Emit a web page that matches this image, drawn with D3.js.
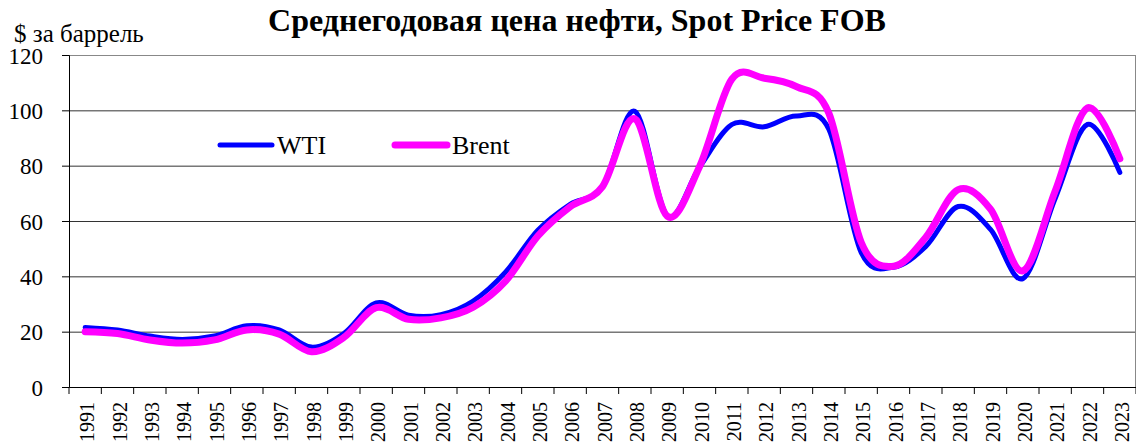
<!DOCTYPE html>
<html><head><meta charset="utf-8">
<script src="https://cdn.jsdelivr.net/npm/d3@7"></script>
<style>body{margin:0;background:#fff}svg{display:block}text{font-family:"Liberation Serif","Times New Roman","DejaVu Serif",serif}</style>
</head><body><svg id="c" width="1136" height="446"></svg>
<script>
const years = ["1991","1992","1993","1994","1995","1996","1997","1998","1999","2000","2001","2002","2003","2004","2005","2006","2007","2008","2009","2010","2011","2012","2013","2014","2015","2016","2017","2018","2019","2020","2021","2022","2023"];
const wti = [21.54,20.58,18.43,17.20,18.43,22.12,20.61,14.42,19.34,30.38,25.98,26.18,31.08,41.51,56.64,66.05,72.34,99.67,61.95,79.48,94.88,94.05,97.98,93.17,48.66,43.29,50.80,65.23,56.99,39.17,68.14,94.90,77.58];
const brent = [20.00,19.32,17.01,15.86,17.02,20.64,19.11,12.76,17.90,28.66,24.46,24.99,28.85,38.26,54.57,65.16,72.44,96.94,61.74,79.61,111.26,111.63,108.56,98.97,52.32,43.64,54.13,71.34,64.30,41.96,70.86,100.93,82.49];
const yTicks = [0,20,40,60,80,100,120];
const seriesNames = ["WTI","Brent"];
const colors = ["#0000FF","#FF00FF"];

const svg = d3.select("#c");
const L=69, R=1136, T=55, B=387;
const x = d3.scaleBand().domain(years).range([L,R]);
const y = d3.scaleLinear().domain([0,120]).range([B,T]);

// gridlines
svg.append("g").selectAll("line").data(yTicks.filter(d=>d>0)).join("line")
  .attr("x1",L).attr("x2",R).attr("y1",d=>y(d)+0.5).attr("y2",d=>y(d)+0.5)
  .attr("stroke",d=>d===120?"#888":"#333").attr("stroke-width",1);
// right border
svg.append("line").attr("x1",R-0.5).attr("x2",R-0.5).attr("y1",T).attr("y2",B).attr("stroke","#888");

// y axis
const ya = svg.append("g").attr("transform",`translate(${L},0)`)
  .call(d3.axisLeft(y).tickValues(yTicks).tickSize(7).tickPadding(19).tickFormat(d3.format("d")));
ya.attr("font-family",null);
ya.select(".domain").attr("stroke","#000");
ya.selectAll(".tick line").attr("stroke","#000");
ya.selectAll("text").attr("font-size",23).attr("fill","#000").attr("dy","0.35em");

// x axis
const xa = svg.append("g").attr("transform",`translate(0,${B})`)
  .call(d3.axisBottom(x).tickSize(0).tickSizeOuter(0));
xa.attr("font-family",null);
xa.select(".domain").attr("stroke","#000");
xa.selectAll(".tick line").remove();
// tick marks at band boundaries
svg.append("g").selectAll("line").data(years.concat(["end"])).join("line")
  .attr("x1",(d,i)=>L+i*x.step()).attr("x2",(d,i)=>L+i*x.step())
  .attr("y1",B).attr("y2",B+7).attr("stroke","#000");
xa.selectAll("text").attr("font-size",20).attr("fill","#000")
  .attr("transform","rotate(-90)").attr("text-anchor","end").attr("x",-15).attr("y",2).attr("dy","0.35em");

// lines
const line = d3.line().x((d,i)=>x(years[i])+x.bandwidth()/2).y(d=>y(d)).curve(d3.curveCardinal.tension(0));
svg.append("path").datum(wti).attr("d",line).attr("fill","none").attr("stroke",colors[0]).attr("stroke-width",5).attr("stroke-linecap","round").attr("stroke-linejoin","round");
svg.append("path").datum(brent).attr("d",line).attr("fill","none").attr("stroke",colors[1]).attr("stroke-width",7).attr("stroke-linecap","round").attr("stroke-linejoin","round");

// legend
const lg = [{x:220,name:seriesNames[0],c:colors[0],w:5},{x:395,name:seriesNames[1],c:colors[1],w:7}];
lg.forEach(o=>{
  svg.append("line").attr("x1",o.x).attr("x2",o.x+52).attr("y1",145).attr("y2",145).attr("stroke",o.c).attr("stroke-width",o.w).attr("stroke-linecap","round");
  svg.append("text").attr("x",o.x+57).attr("y",154).attr("font-size",26).text(o.name);
});

// title
svg.append("text").attr("x",577).attr("y",31).attr("text-anchor","middle").attr("font-size",32).attr("font-weight","bold").text("Среднегодовая цена нефти, Spot Price FOB");
svg.append("text").attr("x",14).attr("y",42).attr("font-size",25).text("$ за баррель");
</script></body></html>
